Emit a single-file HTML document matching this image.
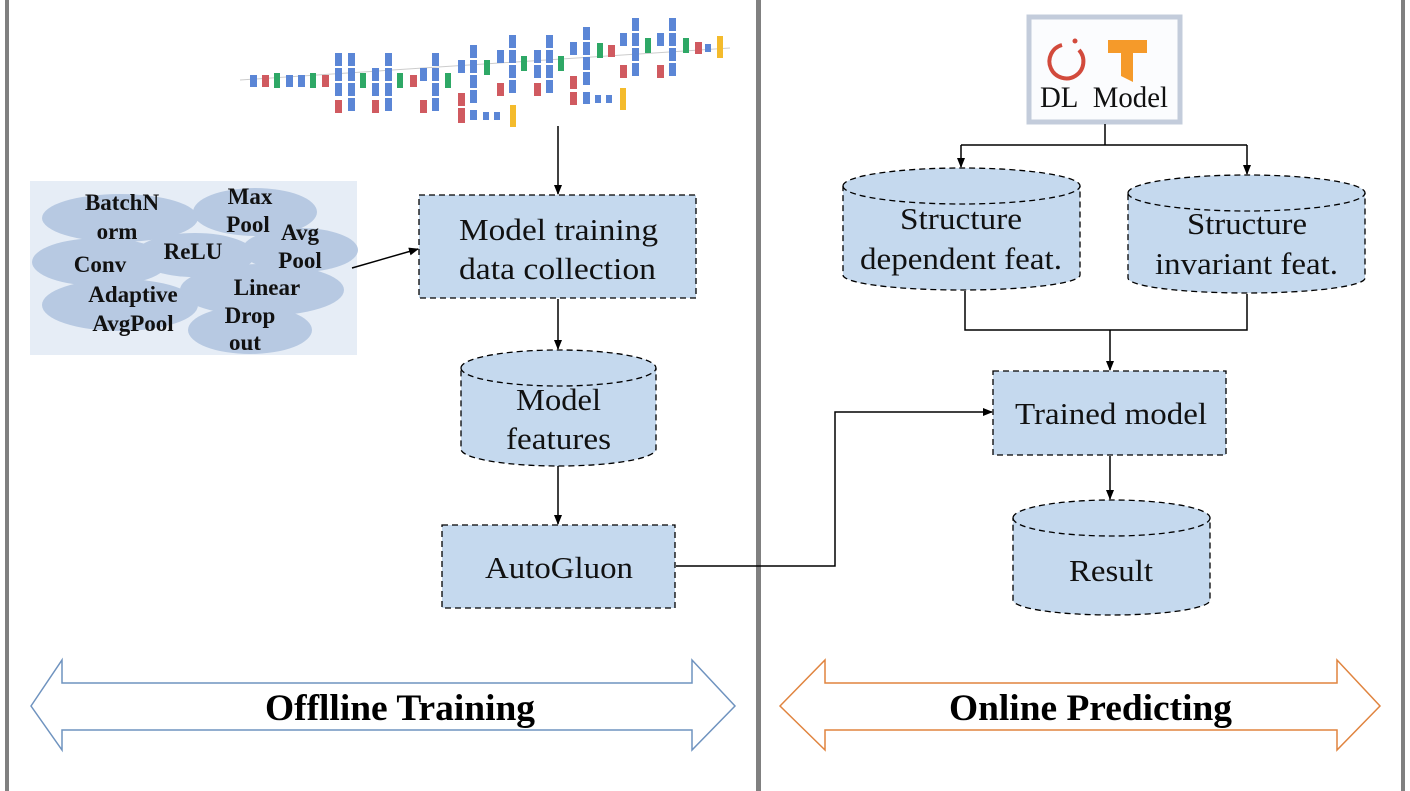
<!DOCTYPE html>
<html><head><meta charset="utf-8"><style>
html,body{margin:0;padding:0;background:#fff;}
svg{display:block;font-family:"Liberation Serif",serif;}
</style></head><body>
<svg width="1410" height="791" viewBox="0 0 1410 791" xmlns="http://www.w3.org/2000/svg">
<defs>
<marker id="ah" markerWidth="10" markerHeight="10" refX="9" refY="5" orient="auto" markerUnits="userSpaceOnUse">
<path d="M0,1 L10,5 L0,9 z" fill="#000"/></marker>
</defs>
<rect x="5" y="0" width="4" height="791" fill="#808080"/>
<rect x="756" y="0" width="5" height="791" fill="#808080"/>
<rect x="1401" y="0" width="4" height="791" fill="#808080"/>

<g>
<line x1="240" y1="80" x2="730" y2="48" stroke="#ccc" stroke-width="1"/>
<g fill="#5b86d6">
<rect x="250" y="75" width="7" height="12"/><rect x="286" y="75" width="7" height="12"/><rect x="298" y="75" width="7" height="12"/>
<rect x="335" y="53" width="7" height="13"/><rect x="335" y="68" width="7" height="13"/><rect x="335" y="83" width="7" height="13"/>
<rect x="348" y="53" width="7" height="13"/><rect x="348" y="68" width="7" height="13"/><rect x="348" y="83" width="7" height="13"/><rect x="348" y="98" width="7" height="13"/>
<rect x="372" y="68" width="7" height="13"/><rect x="372" y="83" width="7" height="13"/><rect x="385" y="53" width="7" height="13"/><rect x="385" y="68" width="7" height="13"/><rect x="385" y="83" width="7" height="13"/><rect x="385" y="98" width="7" height="13"/>
<rect x="420" y="68" width="7" height="13"/><rect x="432" y="53" width="7" height="13"/><rect x="432" y="68" width="7" height="13"/><rect x="432" y="83" width="7" height="13"/><rect x="432" y="98" width="7" height="13"/>
<rect x="458" y="60" width="7" height="13"/><rect x="470" y="45" width="7" height="13"/><rect x="470" y="60" width="7" height="13"/><rect x="470" y="75" width="7" height="13"/><rect x="470" y="90" width="7" height="13"/><rect x="470" y="110" width="7" height="10"/><rect x="483" y="112" width="6" height="8"/><rect x="494" y="112" width="6" height="8"/>
<rect x="497" y="50" width="7" height="13"/><rect x="509" y="35" width="7" height="13"/><rect x="509" y="50" width="7" height="13"/><rect x="509" y="65" width="7" height="13"/><rect x="509" y="80" width="7" height="13"/>
<rect x="534" y="50" width="7" height="13"/><rect x="534" y="65" width="7" height="13"/><rect x="546" y="35" width="7" height="13"/><rect x="546" y="50" width="7" height="13"/><rect x="546" y="65" width="7" height="13"/><rect x="546" y="80" width="7" height="13"/>
<rect x="570" y="42" width="7" height="13"/><rect x="583" y="27" width="7" height="13"/><rect x="583" y="42" width="7" height="13"/><rect x="583" y="57" width="7" height="13"/><rect x="583" y="72" width="7" height="13"/><rect x="583" y="92" width="7" height="12"/><rect x="595" y="95" width="6" height="8"/><rect x="606" y="95" width="6" height="8"/>
<rect x="620" y="33" width="7" height="13"/><rect x="632" y="18" width="7" height="13"/><rect x="632" y="33" width="7" height="13"/><rect x="632" y="48" width="7" height="13"/><rect x="632" y="63" width="7" height="13"/>
<rect x="657" y="33" width="7" height="13"/><rect x="669" y="18" width="7" height="13"/><rect x="669" y="33" width="7" height="13"/><rect x="669" y="48" width="7" height="13"/><rect x="669" y="63" width="7" height="13"/><rect x="705" y="44" width="6" height="8"/>
</g>
<g fill="#d05a60">
<rect x="262" y="75" width="7" height="12"/><rect x="322" y="75" width="7" height="12"/><rect x="335" y="100" width="7" height="13"/><rect x="372" y="100" width="7" height="13"/><rect x="410" y="75" width="7" height="12"/><rect x="420" y="100" width="7" height="13"/>
<rect x="458" y="93" width="7" height="13"/><rect x="458" y="108" width="7" height="15"/><rect x="497" y="83" width="7" height="13"/><rect x="534" y="83" width="7" height="13"/><rect x="570" y="76" width="7" height="13"/><rect x="570" y="92" width="7" height="13"/>
<rect x="608" y="45" width="7" height="12"/><rect x="620" y="65" width="7" height="13"/><rect x="657" y="65" width="7" height="13"/><rect x="695" y="42" width="7" height="12"/>
</g>
<g fill="#2ea866">
<rect x="274" y="73" width="6" height="15"/><rect x="310" y="73" width="6" height="15"/><rect x="360" y="73" width="6" height="15"/><rect x="397" y="73" width="6" height="15"/><rect x="445" y="73" width="6" height="15"/>
<rect x="484" y="60" width="6" height="15"/><rect x="521" y="56" width="6" height="15"/><rect x="558" y="56" width="6" height="15"/><rect x="597" y="43" width="6" height="15"/><rect x="645" y="38" width="6" height="15"/><rect x="683" y="38" width="6" height="15"/>
</g>
<g fill="#f4bb2c">
<rect x="510" y="105" width="6" height="22"/><rect x="620" y="88" width="6" height="22"/><rect x="717" y="36" width="6" height="22"/>
</g>
</g>

<rect x="30" y="181" width="327" height="174" fill="#e6edf6"/>
<g fill="#b3c6e0" opacity="0.9">
<ellipse cx="120" cy="218" rx="78" ry="24"/>
<ellipse cx="255" cy="212" rx="62" ry="24"/>
<ellipse cx="300" cy="250" rx="58" ry="22"/>
<ellipse cx="100" cy="262" rx="68" ry="24"/>
<ellipse cx="195" cy="255" rx="60" ry="22"/>
<ellipse cx="120" cy="305" rx="78" ry="26"/>
<ellipse cx="262" cy="290" rx="82" ry="26"/>
<ellipse cx="250" cy="330" rx="62" ry="24"/>
</g>
<g font-weight="bold" font-size="23" fill="#111" text-anchor="middle">
<text x="122" y="210">BatchN</text><text x="117" y="239">orm</text>
<text x="250" y="204">Max</text><text x="248" y="232">Pool</text>
<text x="300" y="240">Avg</text><text x="300" y="268">Pool</text>
<text x="100" y="272">Conv</text><text x="193" y="259">ReLU</text>
<text x="133" y="302">Adaptive</text><text x="133" y="331">AvgPool</text>
<text x="267" y="295">Linear</text>
<text x="250" y="323">Drop</text><text x="245" y="350">out</text>
</g>

<g stroke="#000" stroke-width="1.5" fill="none">
<line x1="558" y1="126" x2="558" y2="194" marker-end="url(#ah)"/>
<line x1="352" y1="268" x2="418" y2="249" marker-end="url(#ah)"/>
<line x1="558" y1="299" x2="558" y2="349" marker-end="url(#ah)"/>
<line x1="558" y1="466" x2="558" y2="524" marker-end="url(#ah)"/>
<polyline points="676,566 835,566 835,412 992,412" marker-end="url(#ah)"/>
</g>
<g fill="#c5d9ee" stroke="#000" stroke-width="1.3" stroke-dasharray="6,4">
<rect x="419" y="195" width="277" height="103"/>
<rect x="442" y="525" width="233" height="83"/>
<path d="M461,368 A97.5,18 0 0 1 656,368 L656,449 A97.5,17 0 0 1 461,449 Z"/>
<path d="M461,368 A97.5,18 0 0 0 656,368" fill="none"/>
</g>
<g font-size="31" fill="#111" lengthAdjust="spacingAndGlyphs">
<text x="459" y="240" textLength="199" lengthAdjust="spacingAndGlyphs">Model training</text>
<text x="459" y="279" textLength="197" lengthAdjust="spacingAndGlyphs">data collection</text>
<text x="516" y="410" textLength="85" lengthAdjust="spacingAndGlyphs">Model</text>
<text x="506" y="449" textLength="105" lengthAdjust="spacingAndGlyphs">features</text>
<text x="485" y="578" textLength="148" lengthAdjust="spacingAndGlyphs">AutoGluon</text>
</g>

<rect x="1029" y="17" width="151" height="105" fill="#fbfcfe" stroke="#c3ccdb" stroke-width="5"/>
<path d="M1062,45 A17,17 0 1 0 1079,50" fill="none" stroke="#d24a3c" stroke-width="4"/>
<circle cx="1075" cy="41" r="2.5" fill="#d24a3c"/>
<path d="M1108,40 L1147,40 L1147,53 L1133,53 L1133,82 L1121,76 L1121,53 L1108,53 Z" fill="#f59a2a"/>
<text x="1040" y="107" font-size="30" fill="#111" textLength="128" lengthAdjust="spacingAndGlyphs">DL&#160; Model</text>

<g stroke="#000" stroke-width="1.5" fill="none">
<polyline points="1105,124 1105,145"/>
<line x1="961" y1="145" x2="1247" y2="145"/>
<line x1="961" y1="145" x2="961" y2="167" marker-end="url(#ah)"/>
<line x1="1247" y1="145" x2="1247" y2="174" marker-end="url(#ah)"/>
<polyline points="965,291 965,330 1247,330 1247,294"/>
<line x1="1110" y1="330" x2="1110" y2="370" marker-end="url(#ah)"/>
<line x1="1110" y1="456" x2="1110" y2="499" marker-end="url(#ah)"/>
</g>
<g fill="#c5d9ee" stroke="#000" stroke-width="1.3" stroke-dasharray="6,4">
<path d="M843,186 A118.5,18 0 0 1 1080,186 L1080,275 A118.5,15 0 0 1 843,275 Z"/>
<path d="M843,186 A118.5,18 0 0 0 1080,186" fill="none"/>
<path d="M1128,193 A118.5,18 0 0 1 1365,193 L1365,278 A118.5,15 0 0 1 1128,278 Z"/>
<path d="M1128,193 A118.5,18 0 0 0 1365,193" fill="none"/>
<rect x="993" y="371" width="233" height="84"/>
<path d="M1013,518 A98.5,18 0 0 1 1210,518 L1210,600 A98.5,15 0 0 1 1013,600 Z"/>
<path d="M1013,518 A98.5,18 0 0 0 1210,518" fill="none"/>
</g>
<g font-size="31" fill="#111">
<text x="900" y="229" textLength="122" lengthAdjust="spacingAndGlyphs">Structure</text>
<text x="860" y="269" textLength="202" lengthAdjust="spacingAndGlyphs">dependent feat.</text>
<text x="1187" y="234" textLength="120" lengthAdjust="spacingAndGlyphs">Structure</text>
<text x="1155" y="274" textLength="183" lengthAdjust="spacingAndGlyphs">invariant feat.</text>
<text x="1015" y="424" textLength="192" lengthAdjust="spacingAndGlyphs">Trained model</text>
<text x="1069" y="581" textLength="84" lengthAdjust="spacingAndGlyphs">Result</text>
</g>

<path d="M31,706 L62,660 L62,683 L692,683 L692,660 L735,706 L692,750 L692,730 L62,730 L62,750 Z" fill="#fff" stroke="#6f93bf" stroke-width="1.5"/>
<text x="265" y="720" font-size="37" font-weight="bold" fill="#000" textLength="270" lengthAdjust="spacingAndGlyphs">Offlline Training</text>
<path d="M780,706 L825,660 L825,683 L1337,683 L1337,660 L1380,706 L1337,750 L1337,730 L825,730 L825,750 Z" fill="#fff" stroke="#e0843f" stroke-width="1.5"/>
<text x="949" y="720" font-size="37" font-weight="bold" fill="#000" textLength="283" lengthAdjust="spacingAndGlyphs">Online Predicting</text>
</svg>
</body></html>
